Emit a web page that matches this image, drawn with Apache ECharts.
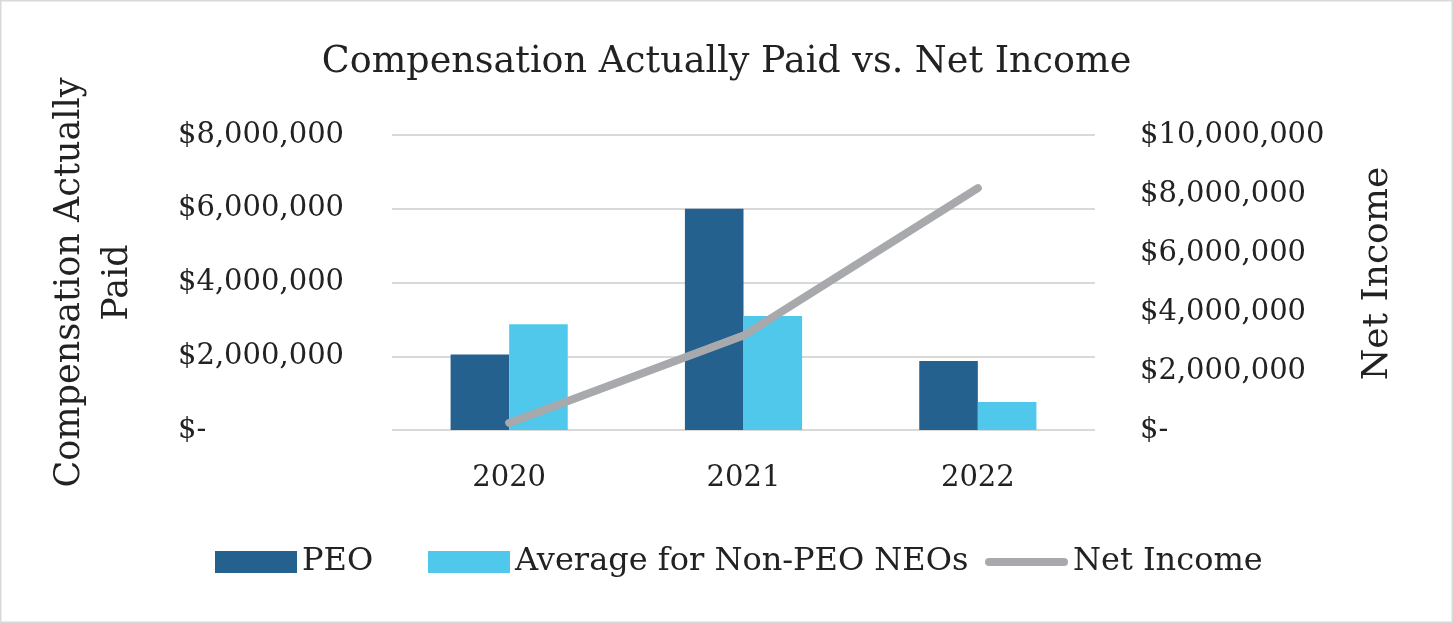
<!DOCTYPE html>
<html><head><meta charset="utf-8">
<script src="https://cdn.jsdelivr.net/npm/echarts@6/dist/echarts.min.js"></script>
<style>html,body{margin:0;padding:0;background:#fff}#c{width:1453px;height:623px}</style>
</head><body><div id="c"></div>
<script>
const categories = ['2020', '2021', '2022'];
const peo = [2050000, 6000000, 1870000];
const nonPeo = [2870000, 3090000, 760000];
const netIncome = [240000, 3200000, 8200000];
const seriesNames = ['PEO', 'Average for Non-PEO NEOs', 'Net Income'];

const FONT = 'DejaVu Serif';
const TXT = '#222';
const fmt = v => v === 0 ? '$-' : '$' + v.toLocaleString('en-US');
const legendText = { fontFamily: FONT, fontSize: 32, color: TXT };
const chart = echarts.init(document.getElementById('c'));
chart.setOption({
  backgroundColor: '#fff',
  animation: false,
  textStyle: { fontFamily: FONT, color: TXT },
  graphic: [{ type: 'rect', shape: { x: 0.5, y: 0.5, width: 1452, height: 622 }, style: { fill: 'none', stroke: '#d9d9d9', lineWidth: 2 } }],
  title: { text: 'Compensation Actually Paid vs. Net Income', left: 'center', top: 39,
    textStyle: { fontFamily: FONT, fontSize: 36.5, fontWeight: 'normal', color: TXT } },
  legend: [
    { top: 546, left: 215, padding: 0, itemWidth: 82, itemHeight: 22, icon: 'rect', textStyle: legendText, data: [seriesNames[0]] },
    { top: 546, left: 428, padding: 0, itemWidth: 82, itemHeight: 22, icon: 'rect', textStyle: legendText, data: [seriesNames[1]] },
    { top: 546, left: 985, padding: 0, itemWidth: 83, itemHeight: 8,
      icon: 'path://M4,0 L79,0 A4,4 0 0 1 79,8 L4,8 A4,4 0 0 1 4,0 Z', textStyle: legendText, data: [seriesNames[2]] }
  ],
  grid: { left: 392, right: 358, top: 135, bottom: 193 },
  xAxis: { type: 'category', data: categories, axisLine: { show: false }, axisTick: { show: false },
    axisLabel: { fontFamily: FONT, fontSize: 29, color: TXT, margin: 34 } },
  yAxis: [
    { type: 'value', min: 0, max: 8000000, interval: 2000000, name: 'Compensation Actually\nPaid',
      nameLocation: 'middle', nameGap: 250, nameRotate: 90,
      nameTextStyle: { fontFamily: FONT, fontSize: 35, color: TXT, lineHeight: 48 },
      axisLabel: { formatter: fmt, align: 'left', margin: 214, fontFamily: FONT, fontSize: 29, color: TXT } ,
      splitLine: { lineStyle: { color: '#d9d9d9', width: 2 } } },
    { type: 'value', min: 0, max: 10000000, interval: 2000000, name: 'Net Income',
      nameLocation: 'middle', nameGap: 265, nameRotate: 90,
      nameTextStyle: { fontFamily: FONT, fontSize: 36, color: TXT, padding: [0, 0, 0, 18] },
      axisLabel: { formatter: fmt, align: 'left', margin: 45, fontFamily: FONT, fontSize: 29, color: TXT },
      splitLine: { show: false } }
  ],
  series: [
    { name: seriesNames[0], type: 'bar', data: peo, barGap: '0%', barCategoryGap: '50%', itemStyle: { color: '#24618e' } },
    { name: seriesNames[1], type: 'bar', data: nonPeo, itemStyle: { color: '#4fc8eb' } },
    { name: seriesNames[2], type: 'line', yAxisIndex: 1, data: netIncome, symbol: 'none',
      lineStyle: { color: '#a7a9ac', width: 8, cap: 'round', join: 'round' }, itemStyle: { color: '#a7a9ac' } }
  ]
});
</script></body></html>
